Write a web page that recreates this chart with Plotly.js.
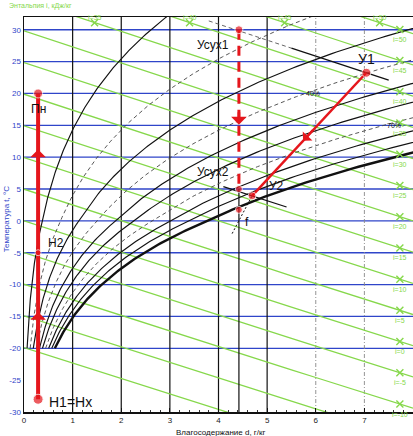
<!DOCTYPE html>
<html><head><meta charset="utf-8">
<script src="https://cdn.plot.ly/plotly-3.0.1.min.js"></script>
<style>html,body{margin:0;padding:0;background:#fff}#chart{width:413px;height:436px}</style>
</head><body><div id="chart"></div>
<script>
// ---- data ----
const tempLines = [-20,-15,-10,-5,0,5,10,15,20,25,30];
const enthalpies = [-20,-15,-10,-5,0,5,10,15,20,25,30,35,40,45,50];
const rightLabels = [50,45,40,35,30,25,20,15,10,5,0,-5,-10];
const topLabels = [35,40,45,50];
const rhLevels = [10,20,30,40,50,60,70,80,90,100];
const rhDashed = [false,true,false,true,false,false,true,false,false,false];
const rhLabels = ['40%','70%'];
const rhLabelD = [5.95,7.6];
const rhLabelT = [20,15];
const solidVerticals = [1,2,3,4,5];
const dashedVerticals = [6,7];
const xTicks = [0,1,2,3,4,5,6,7];
const yTicks = [-30,-25,-20,-15,-10,-5,0,5,10,15,20,25,30];
const pointNames = ['Пн','Н2','Н1=Нх','Усух1','Усух2','У1','У2','f'];
const pointD = [0.29,0.29,0.29,4.42,4.42,7.04,4.69,4.42];
const pointT = [20,-5,-28,30,5,23.25,3.93,1.73];

// ---- helpers ----
function tFromID(i,d){return (i-2.501*d)/(1.006+0.00186*d);}
function ps(t){return t<0?611.2*Math.exp(22.46*t/(272.62+t)):611.2*Math.exp(17.62*t/(243.12+t));}
function dFromT(t,phi){const p=phi*ps(t);return 622*p/(101325-p);}
function iFromDT(d,t){return 1.006*t+0.001*d*(2501+1.86*t);}

const BLUE='#2f45c9', GREEN='#86d84b', RED='#e5161c';
const traces=[];
const P={}; pointNames.forEach((n,k)=>P[n]=[pointD[k],pointT[k]]);

// blue isotherms
tempLines.forEach(t=>traces.push({x:[0,8],y:[t,t],mode:'lines',line:{color:BLUE,width:1.3},hoverinfo:'skip'}));
// verticals
solidVerticals.forEach(d=>traces.push({x:[d,d],y:[-30,32],mode:'lines',line:{color:'#111',width:1.2},hoverinfo:'skip'}));
dashedVerticals.forEach(d=>traces.push({x:[d,d],y:[-30,32],mode:'lines',line:{color:'#888',width:0.9,dash:'4px,2px,1px,2px'},hoverinfo:'skip'}));
// enthalpy lines
enthalpies.forEach(i=>{const xs=[],ys=[];for(let d=0;d<=8.001;d+=0.5){xs.push(d);ys.push(tFromID(i,d));}
 traces.push({x:xs,y:ys,mode:'lines',line:{color:GREEN,width:1.3},hoverinfo:'skip'});});
// RH curves
rhLevels.forEach((r,k)=>{const xs=[],ys=[];for(let t=-20;t<=33;t+=0.25){const d=dFromT(t,r/100);xs.push(d);ys.push(t);if(d>8.2)break;}
 const thick=r===100;
 traces.push({x:xs,y:ys,mode:'lines',line:{color:rhDashed[k]?'#444':'#111',width:thick?2.4:(rhDashed[k]?0.9:1.15),dash:rhDashed[k]?'4px,3px':'solid'},hoverinfo:'skip'});});
// green x markers
const rmD=7.73;
traces.push({x:rightLabels.map(()=>rmD),y:rightLabels.map(i=>tFromID(i,rmD)),mode:'markers',marker:{symbol:'x-thin',size:7,line:{color:GREEN,width:1.4}},hoverinfo:'skip'});
const topT=31.1;
const topD=topLabels.map(i=>(i-1.006*topT)/(2.501+0.00186*topT));
traces.push({x:topD,y:topLabels.map(()=>topT),mode:'markers',marker:{symbol:'x-thin',size:7,line:{color:GREEN,width:1.4}},hoverinfo:'skip'});

// black isenthalp through У1 (dashed part then solid)
const i1=iFromDT(P['У1'][0],P['У1'][1]);
const seg=(i,a,b)=>{const xs=[],ys=[];for(let d=a;d<=b+1e-6;d+=0.1){xs.push(d);ys.push(tFromID(i,d));}return {x:xs,y:ys};};
let s=seg(i1,3.8,5.5); traces.push({x:s.x,y:s.y,mode:'lines',line:{color:'#555',width:0.9,dash:'4px,3px'},hoverinfo:'skip'});
s=seg(i1,5.5,7.5); traces.push({x:s.x,y:s.y,mode:'lines',line:{color:'#111',width:1.3},hoverinfo:'skip'});
const i2=iFromDT(P['У2'][0],P['У2'][1]);
s=seg(i2,4.1,5.4); traces.push({x:s.x,y:s.y,mode:'lines',line:{color:'#111',width:1.3},hoverinfo:'skip'});
// dotted line to У2
traces.push({x:[4.28,P['У2'][0]],y:[-2,P['У2'][1]],mode:'lines',line:{color:'#111',width:1,dash:'2px,2px'},hoverinfo:'skip'});
// vertical black at d of Усух down to axis
traces.push({x:[P['Усух2'][0],P['Усух2'][0]],y:[-30,P['Усух2'][1]],mode:'lines',line:{color:'#111',width:1.2},hoverinfo:'skip'});

// red process lines
traces.push({x:[P['Н1=Нх'][0],P['Пн'][0]],y:[P['Н1=Нх'][1],P['Пн'][1]],mode:'lines',line:{color:RED,width:4},hoverinfo:'skip'});
traces.push({x:[P['Усух1'][0],P['Усух2'][0]],y:[P['Усух1'][1],P['Усух2'][1]],mode:'lines',line:{color:RED,width:3,dash:'10px,6px'},hoverinfo:'skip'});
traces.push({x:[P['У1'][0],P['У2'][0]],y:[P['У1'][1],P['У2'][1]],mode:'lines',line:{color:RED,width:2.5},hoverinfo:'skip'});
traces.push({x:pointD,y:pointT,mode:'markers',marker:{color:RED,size:[9,6,10,8,7,9,8,7]},hoverinfo:'skip'});

const ann=[];
const F='Liberation Sans, Arial, sans-serif';
// labels of points
const lblDx=[0,18,32,-26,-26,0,24,8], lblDy=[-16,10,-3,-15,17,14,10,-12];
pointNames.forEach((n,k)=>ann.push({x:pointD[k],y:pointT[k],xref:'x',yref:'y',text:n,showarrow:false,xshift:lblDx[k],yshift:lblDy[k],font:{family:F,size:(n==='У1'||n==='Н1=Нх')?14:12,color:'#111'}}));
// arrows
const arrowD=[0.29,0.29,4.42], arrowT=[11.2,-14.3,15.1];
const arrowAy=[14,14,-14];
arrowD.forEach((d,k)=>ann.push({x:d,y:arrowT[k],xref:'x',yref:'y',ax:0,ay:arrowAy[k],showarrow:true,arrowhead:1,arrowsize:1,arrowwidth:2.6,arrowcolor:RED,text:''}));
// arrow on У1->У2
const fr=0.553;
ann.push({x:P['У1'][0]+fr*(P['У2'][0]-P['У1'][0]),y:P['У1'][1]+fr*(P['У2'][1]-P['У1'][1]),xref:'x',yref:'y',ax:11,ay:-12,showarrow:true,arrowhead:1,arrowsize:1,arrowwidth:2.2,arrowcolor:RED,text:''});
// rh labels
rhLabels.forEach((t,k)=>ann.push({x:rhLabelD[k],y:rhLabelT[k],xref:'x',yref:'y',text:t,showarrow:false,font:{family:F,size:7,color:'#111'}}));
// green labels
rightLabels.forEach(i=>ann.push({x:rmD,y:tFromID(i,rmD),xref:'x',yref:'y',text:'i='+i,showarrow:false,yshift:-10,font:{family:F,size:7,color:GREEN}}));
topLabels.forEach((i,k)=>ann.push({x:topD[k],y:1.0127,xref:'x',yref:'paper',text:'i='+i,showarrow:false,font:{family:F,size:7,color:GREEN}}));
ann.push({x:0.0437,y:1.027,xref:'paper',yref:'paper',xanchor:'center',yanchor:'middle',text:'Энтальпия i, кДж/кг',showarrow:false,font:{family:F,size:7,color:GREEN}});
ann.push({x:0.505,y:-0.053,xref:'paper',yref:'paper',xanchor:'center',yanchor:'middle',text:'Влагосодержание d, г/кг',showarrow:false,font:{family:F,size:8,color:'#111'}});
ann.push({x:-0.044,y:0.49,xref:'paper',yref:'paper',xanchor:'center',yanchor:'middle',text:'Температура t, °C',textangle:-90,showarrow:false,font:{family:F,size:8,color:BLUE}});

const layout={width:413,height:436,margin:{l:24,r:0,t:17,b:24},showlegend:false,paper_bgcolor:'#fff',plot_bgcolor:'#fff',
 xaxis:{range:[0,8],tickvals:xTicks,ticktext:xTicks.map(String),showgrid:false,zeroline:false,showline:true,linecolor:'#111',linewidth:1.5,mirror:true,ticks:'inside',ticklen:4,tickcolor:'#111',tickfont:{family:F,size:8,color:'#222'},minor:{dtick:0.2,ticks:'inside',ticklen:2,tickcolor:'#333',showgrid:false}},
 yaxis:{range:[-30,32],tickvals:yTicks,ticktext:yTicks.map(String),showgrid:false,zeroline:false,showline:true,linecolor:'#111',linewidth:1.5,ticks:'',tickfont:{family:F,size:8,color:BLUE}},
 annotations:ann};
Plotly.newPlot('chart',traces,layout,{staticPlot:true,displayModeBar:false});
</script></body></html>
